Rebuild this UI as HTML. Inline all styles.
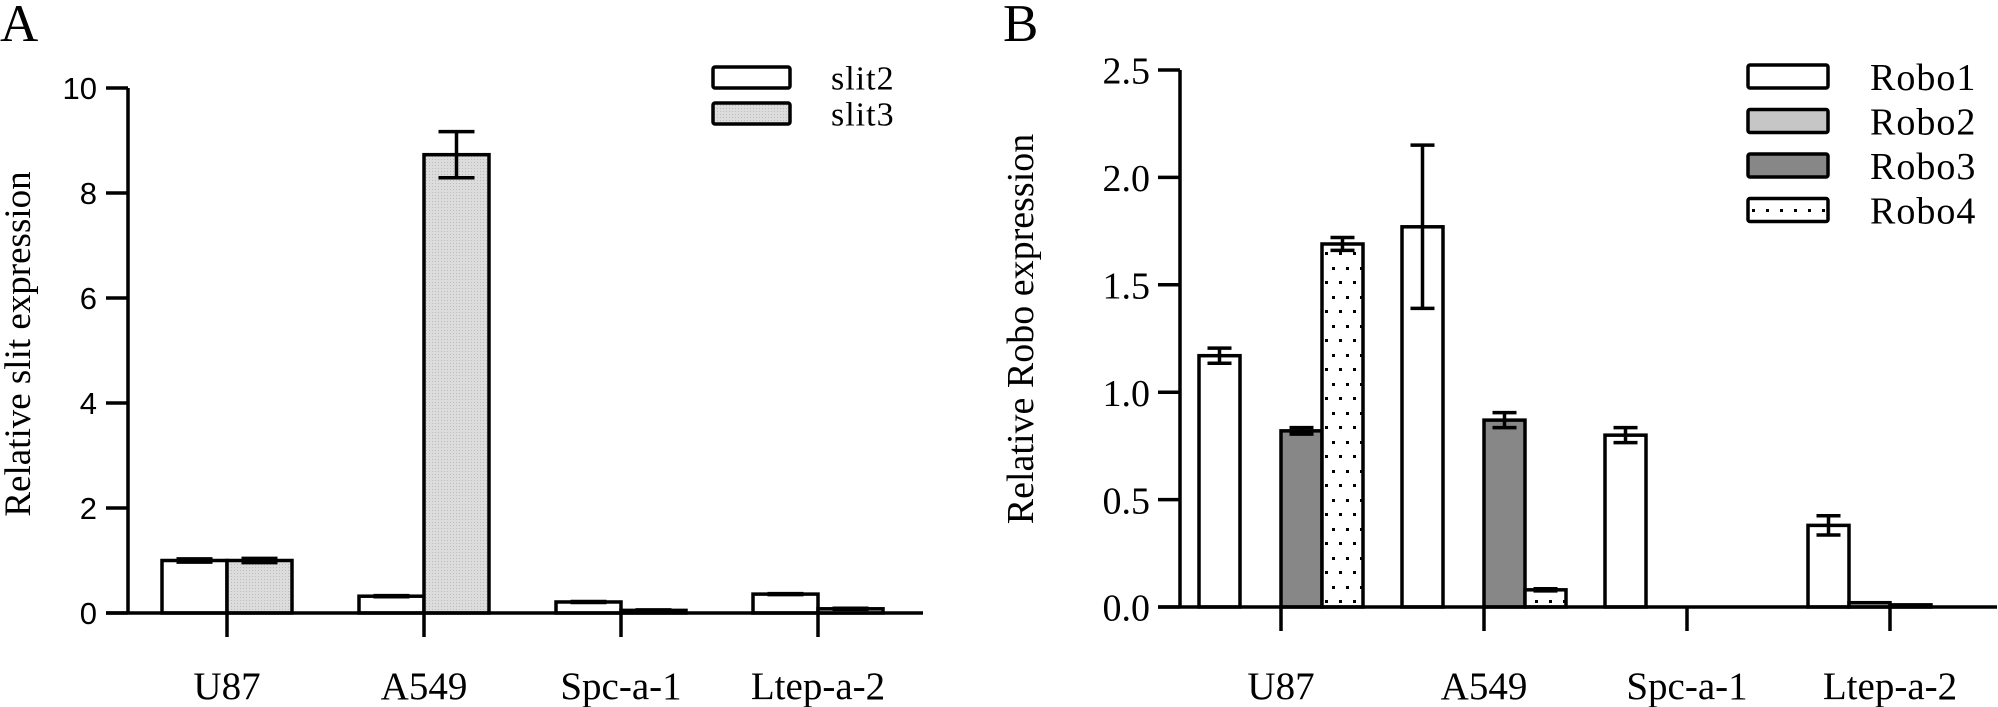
<!DOCTYPE html>
<html><head><meta charset="utf-8">
<style>
html,body{margin:0;padding:0;background:#fff;}
svg{display:block;}
</style></head>
<body>
<svg id="fig" width="1998" height="707" viewBox="0 0 1998 707" xmlns="http://www.w3.org/2000/svg">
<defs>
<pattern id="grain" width="3" height="3" patternUnits="userSpaceOnUse">
<rect width="3" height="3" fill="#dcdcdc"/><rect width="1" height="1" fill="#bdbdbd"/>
</pattern>
<pattern id="dots" width="14" height="29" patternUnits="userSpaceOnUse">
<rect width="14" height="29" fill="#fff"/>
<rect x="2" y="6" width="3" height="3" fill="#000"/>
<rect x="9" y="20" width="3" height="3" fill="#000"/>
</pattern>
</defs>
<text font-family="Liberation Serif, serif" x="0" y="41" font-size="53">A</text>
<text font-family="Liberation Serif, serif" x="1003" y="41" font-size="53">B</text>
<g id="chartA"></g>
<g id="chartB"></g>
</svg>
<script>
const categories = ["U87", "A549", "Spc-a-1", "Ltep-a-2"];
const slitSeries = ["slit2", "slit3"];
const slit2Values = [1.0, 0.32, 0.21, 0.36];
const slit2Errors = [0.03, 0.01, 0.01, 0.01];
const slit3Values = [1.0, 8.73, 0.05, 0.08];
const slit3Errors = [0.04, 0.44, 0.01, 0.01];
const slitTicks = [0, 2, 4, 6, 8, 10];

const roboSeries = ["Robo1", "Robo2", "Robo3", "Robo4"];
const robo1Values = [1.17, 1.77, 0.80, 0.38];
const robo1Errors = [0.035, 0.38, 0.035, 0.045];
const robo2Values = [0.0, 0.0, 0.0, 0.02];
const robo2Errors = [0, 0, 0, 0];
const robo3Values = [0.82, 0.87, 0.0, 0.01];
const robo3Errors = [0.015, 0.035, 0, 0];
const robo4Values = [1.69, 0.08, 0.0, 0.0];
const robo4Errors = [0.03, 0.005, 0, 0];
const roboTicks = ["0.0", "0.5", "1.0", "1.5", "2.0", "2.5"];

const SERIF = "Liberation Serif, serif";
const SANS = "Liberation Sans, sans-serif";
const NS = "http://www.w3.org/2000/svg";
function mk(parent, tag, attrs, text) {
  const e = document.createElementNS(NS, tag);
  for (const k in attrs) e.setAttribute(k, attrs[k]);
  if (text !== undefined) e.textContent = text;
  parent.appendChild(e);
  return e;
}

function drawChart(g, cfg) {
  const y = v => cfg.y0 - (v - cfg.yMin) / (cfg.yMax - cfg.yMin) * (cfg.y0 - cfg.yTop);
  const xc = i => cfg.firstTick + i * cfg.spacing;
  const nS = cfg.values.length;
  cfg.values.forEach((vals, s) => {
    vals.forEach((v, i) => {
      const x0 = xc(i) - nS * cfg.barW / 2 + s * cfg.barW;
      if (v > 0) {
        const r = mk(g, "rect", {x: x0, y: y(v), width: cfg.barW, height: Math.max(0, cfg.y0 - y(v)), fill: cfg.fills[s], stroke: "#000", "stroke-width": 3.5});
        
        
      }
      const e = cfg.errors[s][i];
      if (e > 0) {
        const cx = x0 + cfg.barW / 2;
        const eg = mk(g, "g", {stroke: "#000", "stroke-width": 3.5});
        
        
        mk(eg, "line", {x1: cx, x2: cx, y1: y(v + e), y2: y(v - e)});
        mk(eg, "line", {x1: cx - cfg.cap, x2: cx + cfg.cap, y1: y(v + e), y2: y(v + e)});
        mk(eg, "line", {x1: cx - cfg.cap, x2: cx + cfg.cap, y1: y(v - e), y2: y(v - e)});
      }
    });
  });
  const ax = mk(g, "g", {stroke: "#000", "stroke-width": 3.5});
  
  
  mk(ax, "line", {x1: cfg.axX, x2: cfg.axX, y1: cfg.yTop, y2: cfg.y0});
  mk(ax, "line", {x1: cfg.axX - 22, x2: cfg.xEnd, y1: cfg.y0, y2: cfg.y0});
  cfg.ticks.forEach(t => {
    const v = parseFloat(t);
    mk(ax, "line", {x1: cfg.axX - 22, x2: cfg.axX, y1: y(v), y2: y(v)});
    const tl = mk(g, "text", {x: cfg.labelRight, y: y(v) + cfg.tickFs * 0.36, "text-anchor": "end", "font-size": cfg.tickFs, "font-family": cfg.tickFont}, t);
    
    
  });
  categories.forEach((c, i) => {
    mk(ax, "line", {x1: xc(i), x2: xc(i), y1: cfg.y0, y2: cfg.y0 + 24});
    const xl = mk(g, "text", {x: xc(i), y: 699, "text-anchor": "middle", "font-size": 39, "font-family": SERIF}, c);
    
    
  });
  const yt = mk(g, "text", {transform: `translate(${cfg.titleX},${cfg.titleY}) rotate(-90)`, "text-anchor": "middle", "font-size": cfg.titleFs, "font-family": SERIF, "xml:space": "preserve"}, cfg.title);
  
  
  cfg.series.forEach((s, k) => {
    const lg = mk(g, "g", {});
    
    
    const ly = cfg.legY + k * cfg.legStep;
    mk(lg, "rect", {x: cfg.legX, y: ly, width: cfg.legW, height: cfg.legH, fill: cfg.fills[k], stroke: "#000", "stroke-width": 3.5, rx: 2});
    mk(lg, "text", {x: cfg.legTextX, y: ly + cfg.legH / 2 + cfg.legFs * 0.35, "font-size": cfg.legFs, "font-family": SERIF, "letter-spacing": 1}, s);
  });
}

drawChart(document.getElementById("chartA"), {
  series: slitSeries, values: [slit2Values, slit3Values], errors: [slit2Errors, slit3Errors],
  fills: ["#fff", "url(#grain)"], ticks: slitTicks.map(String), tickFont: SANS, tickFs: 31,
  yMin: 0, yMax: 10, y0: 613, yTop: 88, axX: 128, xEnd: 923, firstTick: 227, spacing: 197,
  barW: 65, cap: 18, labelRight: 97,
  title: "Relative slit  expression", titleX: 30, titleY: 344, titleFs: 37,
  legX: 713, legY: 67, legStep: 36, legW: 77, legH: 21, legTextX: 831, legFs: 34
});
drawChart(document.getElementById("chartB"), {
  series: roboSeries, values: [robo1Values, robo2Values, robo3Values, robo4Values],
  errors: [robo1Errors, robo2Errors, robo3Errors, robo4Errors],
  fills: ["#fff", "#c6c6c6", "#878787", "url(#dots)"], ticks: roboTicks, tickFont: SERIF, tickFs: 38,
  yMin: 0, yMax: 2.5, y0: 607, yTop: 70, axX: 1180, xEnd: 1997, firstTick: 1281, spacing: 203,
  barW: 41, cap: 12, labelRight: 1150,
  title: "Relative Robo expression", titleX: 1033, titleY: 329, titleFs: 38,
  legX: 1748, legY: 65, legStep: 44.5, legW: 80, legH: 23, legTextX: 1870, legFs: 38
});
</script>
</body></html>
